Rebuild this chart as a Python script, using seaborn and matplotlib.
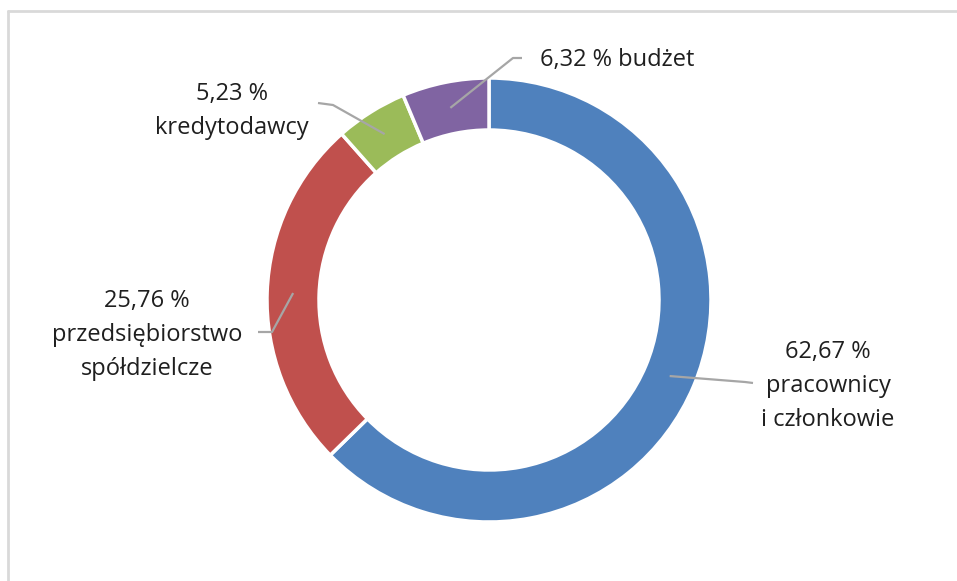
import numpy as np
import matplotlib
matplotlib.use("Agg")
import matplotlib.pyplot as plt
import seaborn as sns

# shares of the profit split (percent), clockwise from the top
groups = ["pracownicy\ni członkowie", "przedsiębiorstwo\nspółdzielcze", "kredytodawcy", "budżet"]
shares = [62.67, 25.76, 5.23, 6.32]
colors = ["#4F81BD", "#C0504D", "#9BBB59", "#8064A2"]

sns.set_theme(style="white")
plt.rcParams["font.family"] = ["Open Sans", "DejaVu Sans"]

W, H = 957, 581
fig = plt.figure(figsize=(W / 100, H / 100), dpi=100)
ax = fig.add_axes([0, 0, 1, 1])

cx, cy, R, ring = 489, 300, 222, 52
# y axis points down (pixel-like), so counterclock in data = clockwise on screen
wedges, _ = ax.pie(shares, colors=colors, startangle=-90, counterclock=True,
                   center=(cx, cy), radius=R,
                   wedgeprops=dict(width=ring, edgecolor="white", linewidth=2.5))
ax.set_xlim(0, W)
ax.set_ylim(H, 0)
ax.set_aspect("equal")
ax.axis("off")

def pct(v):
    return f"{v:.2f}".replace(".", ",") + " %"

# label placement: (text x, text y, ha, elbow points)
layout = [
    (828, 386, "center", [(745, 382), (753, 383)]),
    (147, 335, "center", [(272, 332), (258, 332)]),
    (232, 111, "center", [(333, 105), (318, 103)]),
    (540, 60, "left", [(513, 58), (522, 58)]),
]
txt_kw = dict(fontsize=17, color="#1f1f1f", va="center", linespacing=1.55)
for w, g, v, (tx, ty, ha, elbow) in zip(wedges, groups, shares, layout):
    mid = np.deg2rad((w.theta1 + w.theta2) / 2)
    r_mid = R - ring / 2
    sx, sy = cx + r_mid * np.cos(mid), cy + r_mid * np.sin(mid)
    xs = [sx] + [p[0] for p in elbow]
    ys = [sy] + [p[1] for p in elbow]
    ax.plot(xs, ys, color="#A6A6A6", lw=1.6, solid_capstyle="butt")
    if ha == "left":
        ax.text(tx, ty, f"{pct(v)} {g}", ha="left", **txt_kw)
    else:
        ax.text(tx, ty, f"{pct(v)}\n{g}", ha="center", multialignment="center", **txt_kw)

# chart-area frame (top and left edges visible in the crop)
fig.add_artist(plt.Line2D([8 / W, 1], [1 - 11 / H, 1 - 11 / H], color="#D9D9D9", lw=2))
fig.add_artist(plt.Line2D([8 / W, 8 / W], [0, 1 - 11 / H], color="#D9D9D9", lw=2))

fig.savefig("out.png", dpi=100, facecolor="white")
